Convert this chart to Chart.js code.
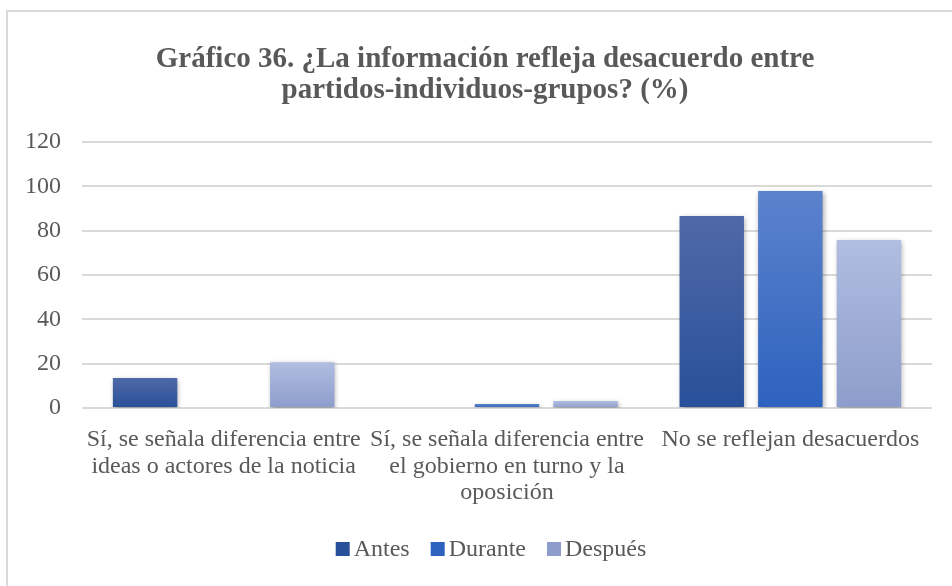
<!DOCTYPE html>
<html lang="es">
<head>
<meta charset="utf-8">
<script src="https://cdn.jsdelivr.net/npm/chart.js@4.4.1/dist/chart.umd.min.js"></script>
<style>
  html, body { margin: 0; padding: 0; background: #ffffff; overflow: hidden; }
  #marco {
    position: absolute; left: 6px; top: 10px; width: 980px; height: 600px;
    border: 2px solid #d9d9d9; box-sizing: border-box;
  }
  #grafico { position: absolute; left: 0; top: 0; }
</style>
</head>
<body>
<div id="marco"></div>
<canvas id="grafico" width="952" height="586"></canvas>
<script>
// categorías del eje x (cada una en varias líneas)
const categorias = [
  ["Sí, se señala diferencia entre", "ideas o actores de la noticia"],
  ["Sí, se señala diferencia entre", "el gobierno en turno y la", "oposición"],
  ["No se reflejan desacuerdos"],
];

// porcentajes por momento
const antes = [13.5, 0, 86.6];
const durante = [0, 1.8, 97.9];
const despues = [20.7, 3.2, 75.8];

const marcasY = [0, 20, 40, 60, 80, 100, 120];

const titulo = ["Gráfico 36. ¿La información refleja desacuerdo entre", "partidos-individuos-grupos? (%)"];

// colores del degradado (arriba, abajo) por serie
const degradados = {
  Antes: ["#5069a7", "#28509a"],
  Durante: ["#5c82cc", "#2d62bf"],
  Después: ["#b1bde1", "#8d9dcb"],
};

const gris = "#595959";
const fuente = "'Liberation Serif', 'Times New Roman', serif";

// degradado vertical propio de cada barra
function rellenoBarra(ctx) {
  const chart = ctx.chart;
  const area = chart.chartArea;
  const colores = degradados[ctx.dataset.label];
  if (!area || ctx.type !== "data") return colores[1];
  const y = chart.scales.y;
  const arriba = y.getPixelForValue(ctx.parsed.y);
  const abajo = y.getPixelForValue(0);
  if (abajo - arriba < 1) return colores[1];
  const g = chart.ctx.createLinearGradient(0, arriba, 0, abajo);
  g.addColorStop(0, colores[0]);
  g.addColorStop(1, colores[1]);
  return g;
}

// sombra suave bajo las barras
const sombra = {
  id: "sombra",
  beforeDatasetsDraw(chart) {
    const c = chart.ctx;
    c.save();
    c.shadowColor = "rgba(0,0,0,0.35)";
    c.shadowBlur = 5;
    c.shadowOffsetX = 1;
    c.shadowOffsetY = 2;
  },
  afterDatasetsDraw(chart) {
    chart.ctx.restore();
  },
};

// las etiquetas del eje y pueden usar todo el margen izquierdo
const margenY = {
  id: "margenY",
  afterLayout(chart) {
    chart.scales.y.left = 0;
  },
};

// leyenda compacta: cuadro pegado al texto
const leyenda = {
  id: "leyenda",
  afterDraw(chart, args, opts) {
    const c = chart.ctx;
    const caja = 14, separa = 4, entre = 21;
    c.save();
    c.font = `24px ${fuente}`;
    c.textBaseline = "middle";
    const items = chart.data.datasets.map((d) => ({
      nombre: d.label,
      ancho: c.measureText(d.label).width,
    }));
    const total = items.reduce((s, it) => s + caja + separa + it.ancho, 0) + entre * (items.length - 1);
    let x = opts.centro - total / 2;
    const y = opts.y;
    items.forEach((it) => {
      c.fillStyle = degradados[it.nombre][1];
      c.fillRect(x, y - caja / 2, caja, caja);
      c.fillStyle = gris;
      c.fillText(it.nombre, x + caja + separa, y + 1);
      x += caja + separa + it.ancho + entre;
    });
    c.restore();
  },
};

const serie = (nombre, datos) => ({
  label: nombre,
  data: datos,
  backgroundColor: rellenoBarra,
  borderWidth: 0,
  categoryPercentage: 0.832,
  barPercentage: 0.82,
});

new Chart(document.getElementById("grafico"), {
  type: "bar",
  data: {
    labels: categorias,
    datasets: [
      serie("Antes", antes),
      serie("Durante", durante),
      serie("Después", despues),
    ],
  },
  plugins: [sombra, margenY, leyenda],
  options: {
    responsive: false,
    animation: false,
    layout: { padding: { left: 38, right: 20, top: 0, bottom: 59 } },
    scales: {
      x: {
        afterFit(scale) {
          scale.height = 119;
        },
        grid: { display: false },
        border: { display: false },
        ticks: {
          color: gris,
          font: { family: fuente, size: 24, lineHeight: 1.12 },
          maxRotation: 0,
          autoSkip: false,
          padding: 10,
        },
      },
      y: {
        min: 0,
        max: 120,
        afterBuildTicks(scale) {
          scale.ticks = marcasY.map((v) => ({ value: v }));
        },
        afterFit(scale) {
          scale.width = 44;
        },
        border: { display: false },
        grid: { color: "#d9d9d9", lineWidth: 2, drawTicks: false },
        ticks: {
          color: gris,
          font: { family: fuente, size: 24 },
          padding: 21,
        },
      },
    },
    plugins: {
      title: {
        display: true,
        text: titulo,
        color: gris,
        font: { family: fuente, size: 29, weight: "bold", lineHeight: 1.07 },
        padding: { top: 44, bottom: 36 },
      },
      legend: { display: false },
      leyenda: { centro: 491, y: 549 },
      tooltip: { enabled: false },
    },
  },
});
</script>
</body>
</html>
